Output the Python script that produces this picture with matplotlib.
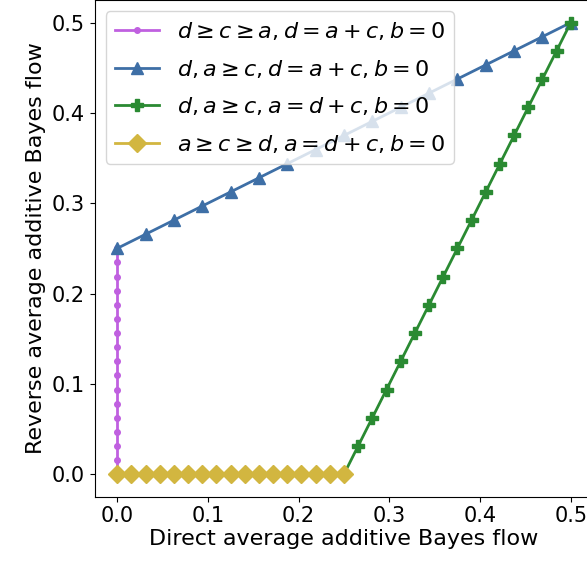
import numpy as np
import matplotlib
matplotlib.use('Agg')
import matplotlib.pyplot as plt

# 17 points per case
pink_x = [0.0] * 17
pink_y = [0.0, 0.015625, 0.03125, 0.046875, 0.0625, 0.078125, 0.09375, 0.109375, 0.125,
          0.140625, 0.15625, 0.171875, 0.1875, 0.203125, 0.21875, 0.234375, 0.25]

blue_x = [0.0, 0.03125, 0.0625, 0.09375, 0.125, 0.15625, 0.1875, 0.21875, 0.25,
          0.28125, 0.3125, 0.34375, 0.375, 0.40625, 0.4375, 0.46875, 0.5]
blue_y = [0.25, 0.265625, 0.28125, 0.296875, 0.3125, 0.328125, 0.34375, 0.359375, 0.375,
          0.390625, 0.40625, 0.421875, 0.4375, 0.453125, 0.46875, 0.484375, 0.5]

green_x = [0.25, 0.265625, 0.28125, 0.296875, 0.3125, 0.328125, 0.34375, 0.359375, 0.375,
           0.390625, 0.40625, 0.421875, 0.4375, 0.453125, 0.46875, 0.484375, 0.5]
green_y = [0.0, 0.03125, 0.0625, 0.09375, 0.125, 0.15625, 0.1875, 0.21875, 0.25,
           0.28125, 0.3125, 0.34375, 0.375, 0.40625, 0.4375, 0.46875, 0.5]

yellow_x = [0.0, 0.015625, 0.03125, 0.046875, 0.0625, 0.078125, 0.09375, 0.109375, 0.125,
            0.140625, 0.15625, 0.171875, 0.1875, 0.203125, 0.21875, 0.234375, 0.25]
yellow_y = [0.0] * 17

labels = [r'$d \geq c \geq a, d = a + c, b = 0$',
          r'$d, a \geq c, d = a + c, b = 0$',
          r'$d, a \geq c, a = d + c, b = 0$',
          r'$a \geq c \geq d, a = d + c, b = 0$']

plt.rcParams['font.size'] = 16
plt.rcParams['mathtext.fontset'] = 'dejavusans'

fig = plt.figure(figsize=(5.87, 5.71), dpi=100)
ax = fig.add_axes([0.161, 0.13, 0.85, 0.87])

ax.plot(pink_x, pink_y, marker='.', color='#c060e0', markersize=8, lw=2, label=labels[0])
ax.plot(blue_x, blue_y, marker='^', color='#3e6fa6', markersize=8, lw=2, label=labels[1])
ax.plot(green_x, green_y, marker='P', color='#2a8a32', markersize=8, lw=2, label=labels[2])
ax.plot(yellow_x, yellow_y, marker='D', color='#d2b640', markersize=9, lw=2, label=labels[3])

ax.set_xlim(-0.025, 0.525)
ax.set_ylim(-0.025, 0.525)
ax.set_xticks([0.0, 0.1, 0.2, 0.3, 0.4, 0.5])
ax.set_yticks([0.0, 0.1, 0.2, 0.3, 0.4, 0.5])
ax.tick_params(labelsize=15)
ax.set_xlabel('Direct average additive Bayes flow', fontsize=16, labelpad=2)
ax.set_ylabel('Reverse average additive Bayes flow', fontsize=16)
ax.legend(loc='upper left', fontsize=16, labelspacing=0.7)

fig.savefig('out.png', dpi=100)
